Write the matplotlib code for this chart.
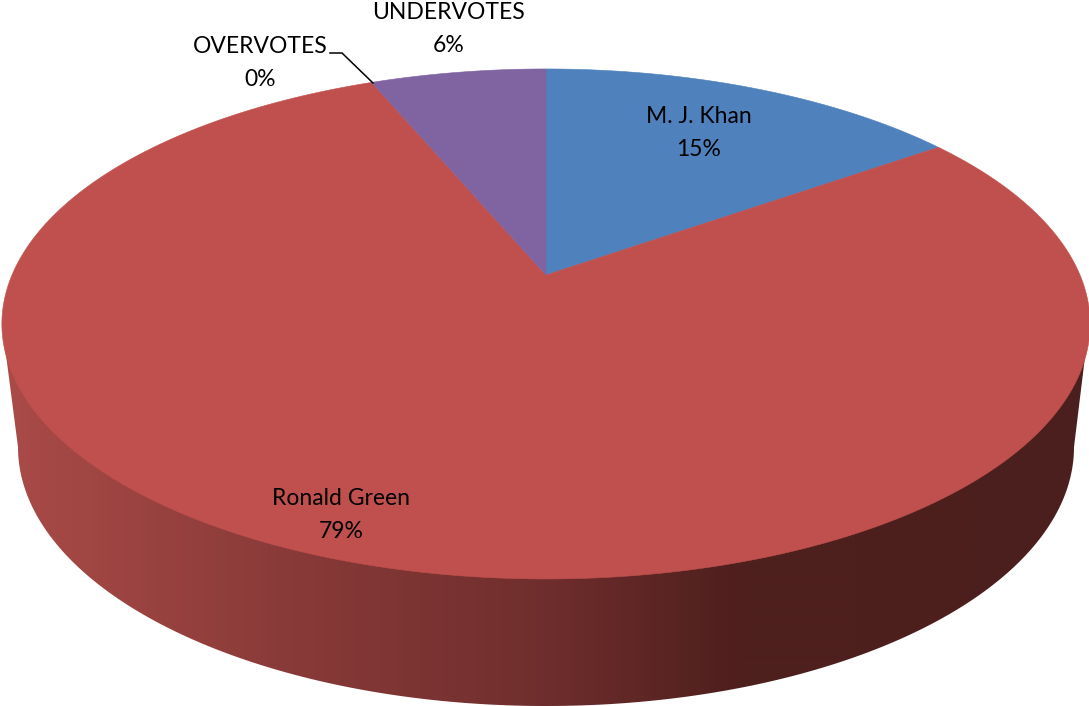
import numpy as np
import matplotlib
matplotlib.use("Agg")
import matplotlib.pyplot as plt
from matplotlib.colors import LinearSegmentedColormap
from matplotlib.patches import Polygon

# Data
names = ["M. J. Khan", "Ronald Green", "OVERVOTES", "UNDERVOTES"]
shares = [15.2, 78.52, 0.0, 6.28]
colors = ["#4F81BD", "#C0504D", "#9BBB59", "#8064A2"]
label_xy = [(699, 133), (341, 515), (260, 63), (449, 29)]

wall_positions = [0.0, 0.27, 0.50, 0.68, 1.0]
wall_colors = ["#AA4B48", "#883A38", "#6F2E2D", "#4E1F1D", "#4B1F1E"]

# Perspective of the pie top
APEX = (546.0, 275.0)
A, B, K = 534.0, 245.6, 0.192
# Lower rim of the wall
RIM_X, RIM_Y, RIM_A, RIM_B = 546.0, 447.0, 528.0, 259.0


def project(theta):
    u, v = np.sin(theta), -np.cos(theta)
    d = 1 - K * v
    return APEX[0] + A * u / d, APEX[1] + B * v / d


fig = plt.figure(figsize=(10.89, 7.06), dpi=100)
ax = fig.add_axes([0, 0, 1, 1])
ax.set_xlim(0, 1089)
ax.set_ylim(706, 0)
ax.axis("off")

# Side wall with horizontal gradient
t = np.linspace(0, np.pi, 400)
rim_x = RIM_X + RIM_A * np.cos(t)
rim_y = RIM_Y + RIM_B * np.sin(t)
wall_pts = np.column_stack([
    np.r_[1089, rim_x, 2],
    np.r_[324, rim_y, 324],
])
wall = Polygon(wall_pts, closed=True, fc="none", ec="none", transform=ax.transData)
ax.add_patch(wall)
cmap = LinearSegmentedColormap.from_list("wall", list(zip(wall_positions, wall_colors)))
im = ax.imshow(np.linspace(0, 1, 1089)[None, :], cmap=cmap, vmin=0, vmax=1,
               extent=(0, 1089, 706, 300), aspect="auto", interpolation="bilinear", zorder=1)
im.set_clip_path(wall)
ax.set_xlim(0, 1089)
ax.set_ylim(706, 0)

# Top slices, clockwise from 12 o'clock
start = 0.0
for name, share, color in zip(names, shares, colors):
    sweep = share / sum(shares) * 2 * np.pi
    if sweep > 0:
        th = np.linspace(start, start + sweep, 300)
        x, y = project(th)
        ax.fill(np.r_[APEX[0], x], np.r_[APEX[1], y], fc=color, ec=color, lw=0.4, zorder=2)
    start += sweep

# Labels
for name, share, (lx, ly) in zip(names, shares, label_xy):
    ax.text(lx, ly, f"{name}\n{share:.0f}%", ha="center", va="center", family="Lato",
            fontsize=16.5, color="#000000", linespacing=1.72, zorder=4)

# Leader line for OVERVOTES
ax.plot([330, 342, 373], [53, 53, 83], color="black", lw=1.1, zorder=3,
        solid_joinstyle="miter")

fig.savefig("out.png", dpi=100, facecolor="white")
